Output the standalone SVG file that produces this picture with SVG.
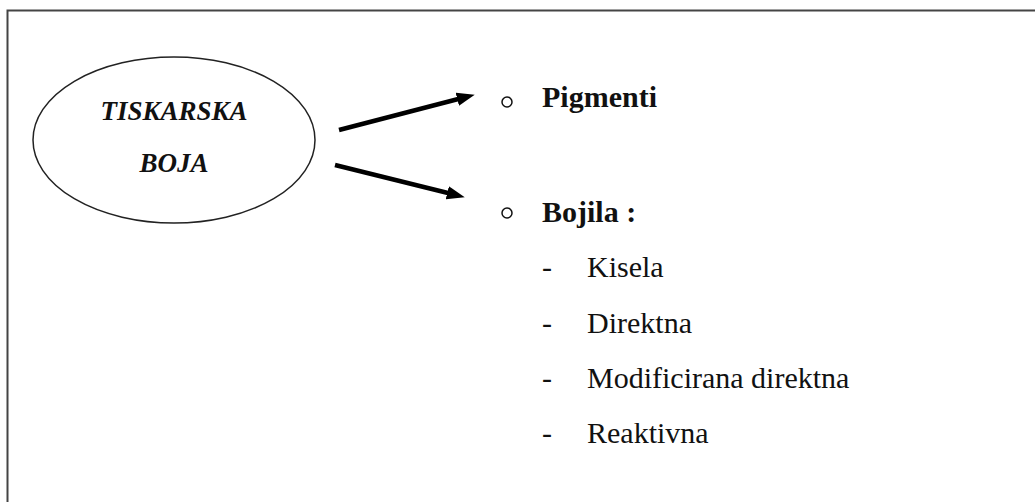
<svg xmlns="http://www.w3.org/2000/svg" width="1035" height="502" viewBox="0 0 1035 502">
<defs>
<marker id="ah" markerWidth="4" markerHeight="3" refX="2" refY="1.5" orient="auto" markerUnits="strokeWidth">
<path d="M0,0 L4,1.5 L0,3 Z" fill="#000"/>
</marker>
<style>
.t{font-family:"Liberation Serif","Times New Roman",serif;fill:#111}
.b{font-weight:bold;font-size:30px}
.r{font-size:30px}
.e{font-weight:bold;font-style:italic;font-size:27px}
.c{stroke:#000;stroke-width:4.5;fill:none}
</style>
</defs>
<rect width="1035" height="502" fill="#fff"/>
<g id="frame" fill="none" stroke="#444" stroke-width="2">
<path d="M7.5,510 L7.5,10.5 L1040,10.5"/>
</g>
<g id="node-tiskarska-boja">
<ellipse cx="174" cy="140" rx="141" ry="83" fill="#fff" stroke="#222" stroke-width="1.5"/>
<text class="t e" x="174" y="120" text-anchor="middle">TISKARSKA</text>
<text class="t e" x="174" y="172" text-anchor="middle">BOJA</text>
</g>
<g id="connectors">
<line class="c" x1="339" y1="130" x2="466" y2="97" marker-end="url(#ah)"/>
<line class="c" x1="335" y1="165" x2="456" y2="195" marker-end="url(#ah)"/>
</g>
<g id="node-pigmenti">
<circle cx="507" cy="102" r="5" fill="none" stroke="#111" stroke-width="1.5"/>
<text class="t b" x="542" y="107">Pigmenti</text>
</g>
<g id="node-bojila">
<circle cx="507" cy="213" r="5" fill="none" stroke="#111" stroke-width="1.5"/>
<text class="t b" x="542" y="222">Bojila :</text>
<g id="list">
<text class="t r" x="542" y="277">-</text>
<text class="t r" x="587" y="277">Kisela</text>
<text class="t r" x="542" y="333">-</text>
<text class="t r" x="587" y="333">Direktna</text>
<text class="t r" x="542" y="388">-</text>
<text class="t r" x="587" y="388">Modificirana direktna</text>
<text class="t r" x="542" y="443">-</text>
<text class="t r" x="587" y="443">Reaktivna</text>
</g>
</g>
</svg>
